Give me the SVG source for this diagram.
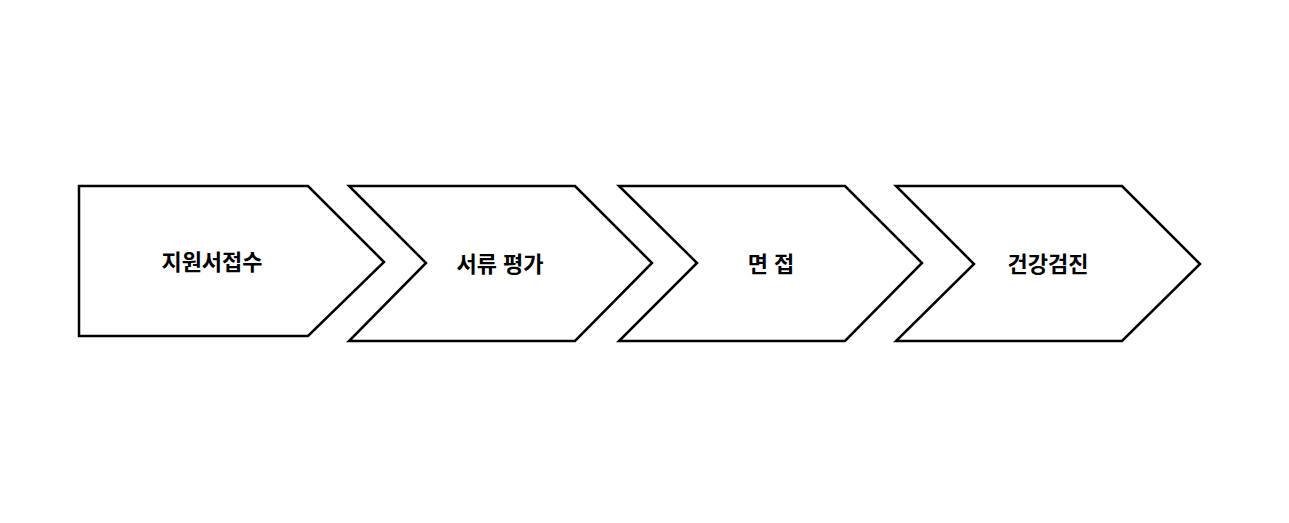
<svg xmlns="http://www.w3.org/2000/svg" width="1289" height="523" viewBox="0 0 1289 523">
<style>
.s{fill:#fff;stroke:#000;stroke-width:2.5;stroke-linejoin:miter}
.t{font-family:"Liberation Sans","Noto Sans CJK KR",sans-serif;font-size:22px;font-weight:bold;text-anchor:middle;dominant-baseline:central}
</style>
<rect width="1289" height="523" fill="#fff"/>
<g id="connectors"></g>
<g id="n1"><polygon class="s" points="79,186 308,186 384,262 308,336 79,336"/><text class="t" x="212" y="262">지원서접수</text></g>
<g id="n2"><polygon class="s" points="349,186 575,186 652,263 575,341 349,341 426,263"/><text class="t" x="500" y="264">서류 평가</text></g>
<g id="n3"><polygon class="s" points="619,186 845,186 922,263 845,341 619,341 697,263"/><text class="t" x="771" y="264">면 접</text></g>
<g id="n4"><polygon class="s" points="896,186 1122,186 1200,264 1122,341 896,341 974,264"/><text class="t" x="1048" y="264">건강검진</text></g>
</svg>
